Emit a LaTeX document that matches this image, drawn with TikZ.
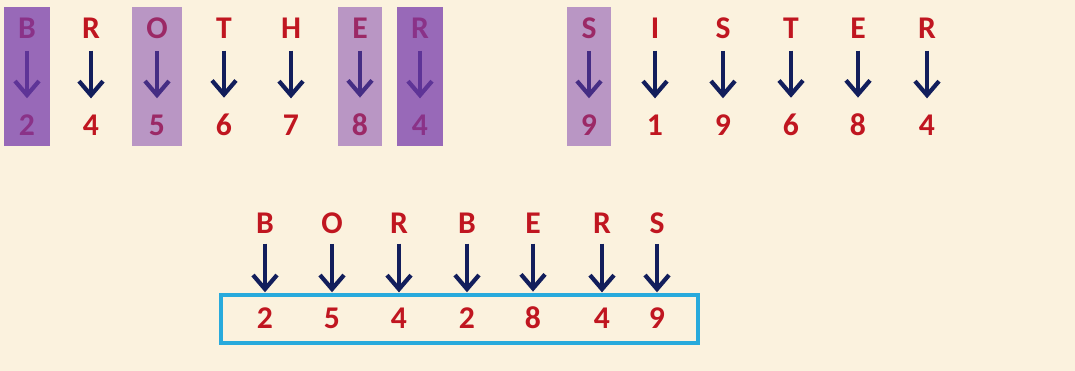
\documentclass[tikz,border=0pt]{standalone}
\usepackage{fontspec}
\setmainfont{Carlito}
\usepackage{xcolor}
\usetikzlibrary{positioning,arrows.meta,fit,calc}

\definecolor{parch}{RGB}{251,242,222}
\definecolor{lettred}{RGB}{192,22,32}
\definecolor{navy}{RGB}{18,30,92}
\definecolor{hilite}{RGB}{120,60,172}
\definecolor{frame}{RGB}{40,170,220}

\begin{document}
\begin{tikzpicture}[
    x=0.02cm, y=-0.02cm,
    letter/.style={
        font=\fontsize{18}{20}\selectfont\bfseries,
        text=lettred,
        inner sep=0pt
    },
    down/.style={
        draw=navy, line width=2.4pt,
        -{Straight Barb[length=0.28cm, width=0.48cm, line width=2.4pt]}
    },
    markA/.style={
        fill=hilite, fill opacity=0.75, draw=none,
        inner xsep=0.27cm, inner ysep=0.2cm
    },
    markB/.style={
        fill=hilite, fill opacity=0.5, draw=none,
        inner xsep=0.27cm, inner ysep=0.2cm
    }
]

\useasboundingbox[fill=parch] (0,0) rectangle (1075,371);

% BROTHER
\foreach \x/\l/\d [count=\i] in
    {27/B/2, 91/R/4, 157/O/5, 224/T/6, 291/H/7, 360/E/8, 420/R/4} {
    \node[letter] (bl\i) at (\x,28) {\l};
    \node[letter] (bd\i) at (\x,125) {\d};
    \draw[down, shorten <=0.24cm, shorten >=0.32cm] (bl\i) -- (bd\i);
}

% SISTER
\foreach \x/\l/\d [count=\i] in
    {589/S/9, 655/I/1, 723/S/9, 791/T/6, 858/E/8, 927/R/4} {
    \node[letter] (sl\i) at (\x,28) {\l};
    \node[letter] (sd\i) at (\x,125) {\d};
    \draw[down, shorten <=0.24cm, shorten >=0.32cm] (sl\i) -- (sd\i);
}

% highlighted columns
\node[markA, fit=(bl1)(bd1)] (hb) {};
\node[markB, fit=(bl3)(bd3)] (ho) {};
\node[markB, fit=(bl6)(bd6)] (he) {};
\node[markA, fit=(bl7)(bd7)] (hr) {};
\node[markB, fit=(sl1)(sd1)] (hs) {};

% BORBERS
\foreach \x/\l/\d [count=\i] in
    {265/B/2, 332/O/5, 399/R/4, 467/B/2, 533/E/8, 602/R/4, 657/S/9} {
    \node[letter] (cl\i) at (\x,223) {\l};
    \node[letter] (cd\i) at (\x,318) {\d};
    \draw[down, shorten <=0.2cm, shorten >=0.3cm] (cl\i) -- (cd\i);
}

\draw[frame, line width=2pt] (221,295) rectangle (698,343);

\end{tikzpicture}
\end{document}
